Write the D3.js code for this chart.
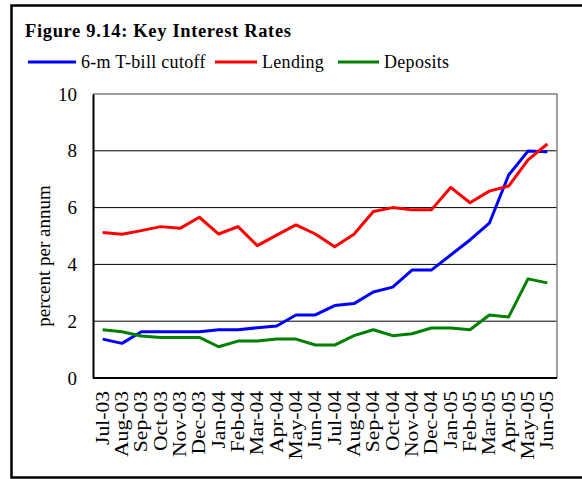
<!DOCTYPE html>
<html>
<head>
<meta charset="utf-8">
<script src="https://cdn.jsdelivr.net/npm/d3@7"></script>
<style>
  body { margin: 0; background: #fff; }
  text { font-family: "Liberation Serif", "Times New Roman", serif; fill: #000; }
</style>
</head>
<body>
<svg id="chart"></svg>
<script>
const months = ["Jul-03","Aug-03","Sep-03","Oct-03","Nov-03","Dec-03","Jan-04","Feb-04","Mar-04","Apr-04","May-04","Jun-04",
                "Jul-04","Aug-04","Sep-04","Oct-04","Nov-04","Dec-04","Jan-05","Feb-05","Mar-05","Apr-05","May-05","Jun-05"];
const tbill   = [1.37,1.22,1.63,1.63,1.63,1.63,1.70,1.70,1.77,1.83,2.22,2.22,2.55,2.62,3.03,3.20,3.80,3.80,4.33,4.86,5.45,7.15,7.99,7.97];
const lending = [5.12,5.06,5.19,5.33,5.27,5.66,5.07,5.33,4.66,5.03,5.39,5.07,4.62,5.06,5.86,6.00,5.92,5.92,6.71,6.17,6.58,6.76,7.68,8.24];
const deposits= [1.70,1.63,1.48,1.43,1.43,1.43,1.10,1.30,1.30,1.37,1.37,1.16,1.16,1.49,1.70,1.49,1.56,1.76,1.76,1.70,2.22,2.15,3.49,3.35];
const yTicks = [0,2,4,6,8,10];
const seriesNames = ["6-m T-bill cutoff","Lending","Deposits"];
const seriesColors = ["#0000ff","#ff0000","#008000"];

const width = 582, height = 479;
const plot = { left: 93, right: 557, top: 94, bottom: 378 };

const svg = d3.select("#chart").attr("width", width).attr("height", height);

// outer frame (cropped at right)
svg.append("rect")
   .attr("x", 11.5).attr("y", 5.5)
   .attr("width", 620).attr("height", 472)
   .attr("fill", "none").attr("stroke", "#000").attr("stroke-width", 2.5);

// title
svg.append("text")
   .attr("x", 25).attr("y", 37)
   .style("font-size", "18.5px").style("font-weight", "bold")
   .style("letter-spacing", "0.65px")
   .text("Figure 9.14: Key Interest Rates");

// legend
const legendPos = [{ x: 28, tx: 81 }, { x: 215, tx: 262 }, { x: 338, tx: 384 }];
seriesNames.forEach((name, i) => {
  svg.append("line")
     .attr("x1", legendPos[i].x).attr("x2", legendPos[i].tx - 5)
     .attr("y1", 62).attr("y2", 62)
     .attr("stroke", seriesColors[i]).attr("stroke-width", 3);
  svg.append("text")
     .attr("x", legendPos[i].tx).attr("y", 68)
     .style("font-size", "18px")
     .style("letter-spacing", "0.3px")
     .text(name);
});

// scales
const xScale = d3.scalePoint().domain(months).range([plot.left, plot.right]).padding(0.5);
const yScale = d3.scaleLinear().domain([0, 10]).range([plot.bottom, plot.top]);

// gridlines
svg.append("g")
   .selectAll("line")
   .data(yTicks.filter(d => d > 0 && d < 10))
   .enter().append("line")
     .attr("x1", plot.left).attr("x2", plot.right)
     .attr("y1", d => yScale(d)).attr("y2", d => yScale(d))
     .attr("stroke", "#000").attr("stroke-width", 1);

// plot border
svg.append("path")
   .attr("d", `M${plot.left},${plot.top}H${plot.right}V${plot.bottom}`)
   .attr("fill", "none").attr("stroke", "#808080").attr("stroke-width", 1.5);

// y axis
const yAxis = d3.axisLeft(yScale).tickValues(yTicks).tickSize(0).tickPadding(16);
const gy = svg.append("g").attr("transform", `translate(${plot.left},0)`).call(yAxis);
gy.select(".domain").attr("stroke", "#000").attr("stroke-width", 2);
gy.selectAll("text").style("font-size", "19px").attr("font-family", null);

// x axis
const xAxis = d3.axisBottom(xScale).tickSize(0).tickSizeOuter(0);
const gx = svg.append("g").attr("transform", `translate(0,${plot.bottom})`).call(xAxis);
gx.select(".domain").attr("d", `M${plot.left},0H${plot.right}`).attr("stroke", "#000").attr("stroke-width", 2);
gx.selectAll("text")
  .attr("font-family", null)
  .style("font-size", "18px")
  .attr("text-anchor", "end")
  .attr("y", 0).attr("dy", "0.3em")
  .attr("transform", "translate(0,13) rotate(-90) scale(1.2,1)");

// y axis title
svg.append("text")
   .attr("transform", "translate(50,256) rotate(-90)")
   .attr("text-anchor", "middle")
   .style("font-size", "19px")
   .text("percent per annum");

// lines
const line = d3.line().x((d, i) => xScale(months[i])).y(d => yScale(d));
[tbill, lending, deposits].forEach((s, i) => {
  svg.append("path")
     .datum(s)
     .attr("d", line)
     .attr("fill", "none")
     .attr("stroke", seriesColors[i])
     .attr("stroke-width", 3)
     .attr("stroke-linejoin", "round");
});
</script>
</body>
</html>
